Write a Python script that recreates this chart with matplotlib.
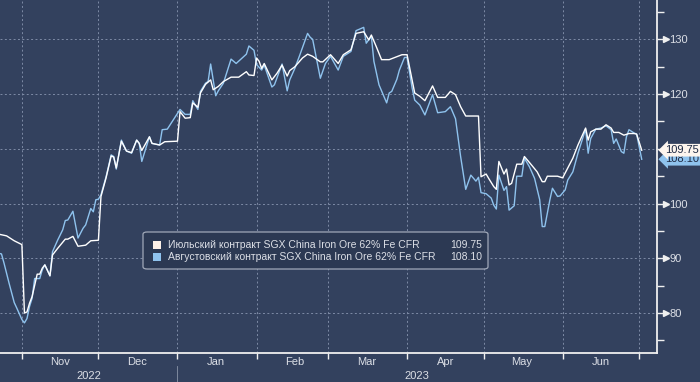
import matplotlib
matplotlib.use("Agg")
import matplotlib.pyplot as plt
import matplotlib.dates as mdates
import matplotlib.transforms as mtransforms
from matplotlib.patches import FancyBboxPatch, Rectangle
import pandas as pd

plt.rcParams["font.family"] = ["Liberation Sans", "DejaVu Sans"]

# July contract (white line)
jul_dates = ["2022-10-23", "2022-10-26", "2022-10-29", "2022-11-01", "2022-11-02",
             "2022-11-03", "2022-11-04", "2022-11-05", "2022-11-07", "2022-11-08",
             "2022-11-09", "2022-11-10", "2022-11-12", "2022-11-13", "2022-11-15",
             "2022-11-18", "2022-11-19", "2022-11-21", "2022-11-23", "2022-11-26",
             "2022-11-28", "2022-12-01", "2022-12-02", "2022-12-04", "2022-12-06",
             "2022-12-07", "2022-12-08", "2022-12-10", "2022-12-12", "2022-12-14",
             "2022-12-16", "2022-12-17", "2022-12-18", "2022-12-21", "2022-12-22",
             "2022-12-25", "2022-12-27", "2023-01-01", "2023-01-02", "2023-01-04",
             "2023-01-06", "2023-01-07", "2023-01-09", "2023-01-10", "2023-01-12",
             "2023-01-14", "2023-01-15", "2023-01-17", "2023-01-19", "2023-01-22",
             "2023-01-25", "2023-01-28", "2023-01-29", "2023-01-31", "2023-02-01",
             "2023-02-02", "2023-02-03", "2023-02-04", "2023-02-07", "2023-02-09",
             "2023-02-11", "2023-02-13", "2023-02-14", "2023-02-16", "2023-02-19",
             "2023-02-21", "2023-02-23", "2023-02-26", "2023-02-27", "2023-03-02",
             "2023-03-05", "2023-03-07", "2023-03-10", "2023-03-12", "2023-03-15",
             "2023-03-17", "2023-03-18", "2023-03-20", "2023-03-22", "2023-03-25",
             "2023-03-30", "2023-04-01", "2023-04-03", "2023-04-04", "2023-04-06",
             "2023-04-08", "2023-04-11", "2023-04-13", "2023-04-16", "2023-04-18",
             "2023-04-20", "2023-04-22", "2023-04-24", "2023-04-29", "2023-04-30",
             "2023-05-02", "2023-05-03", "2023-05-05", "2023-05-06", "2023-05-07",
             "2023-05-09", "2023-05-10", "2023-05-11", "2023-05-12", "2023-05-14",
             "2023-05-16", "2023-05-17", "2023-05-19", "2023-05-22", "2023-05-24",
             "2023-05-25", "2023-05-26", "2023-05-30", "2023-06-01", "2023-06-03",
             "2023-06-05", "2023-06-07", "2023-06-10", "2023-06-11", "2023-06-12",
             "2023-06-14", "2023-06-16", "2023-06-18", "2023-06-20", "2023-06-21",
             "2023-06-23", "2023-06-25", "2023-06-27", "2023-06-29", "2023-06-30",
             "2023-07-02"]
jul_vals = [94.4, 94.1, 93.2, 92.5, 80.0,
            80.2, 81.8, 83.0, 87.1, 87.1,
            88.2, 88.8, 86.8, 90.6, 91.8,
            93.5, 93.5, 94.0, 92.2, 92.4,
            93.2, 93.3, 101.3, 104.7, 108.7,
            108.5, 106.5, 111.4, 109.6, 109.3,
            111.6, 111.0, 109.7, 112.2, 111.0,
            110.7, 111.3, 111.4, 116.8, 115.6,
            115.7, 118.4, 117.6, 120.2, 121.8,
            122.6, 120.8, 121.4, 122.3, 123.1,
            123.1, 124.1, 123.5, 123.4, 126.6,
            126.0, 124.7, 125.6, 122.6, 123.8,
            125.3, 123.3, 124.3, 125.0, 126.6,
            127.3, 126.9, 125.9, 125.9, 127.2,
            125.6, 127.2, 128.1, 131.1, 131.4,
            129.9, 130.8, 128.6, 126.3, 126.3,
            127.2, 127.2, 122.6, 120.2, 119.6,
            118.8, 121.5, 119.4, 119.4, 120.5,
            119.9, 117.7, 116.0, 116.0, 104.9,
            105.4, 104.6, 103.1, 102.6, 107.7,
            105.4, 106.3, 103.4, 103.7, 107.2,
            107.2, 108.6, 107.5, 105.8, 104.0,
            104.0, 105.0, 105.0, 104.7, 106.5,
            108.3, 110.7, 113.8, 111.6, 113.1,
            113.6, 113.6, 114.4, 113.8, 113.0,
            113.0, 112.5, 112.8, 112.8, 112.7,
            109.75]

# August contract (light blue line)
aug_dates = ["2022-10-23", "2022-10-24", "2022-10-25", "2022-10-27", "2022-10-29",
             "2022-10-30", "2022-11-01", "2022-11-02", "2022-11-03", "2022-11-04",
             "2022-11-05", "2022-11-06", "2022-11-08", "2022-11-09", "2022-11-10",
             "2022-11-12", "2022-11-13", "2022-11-15", "2022-11-17", "2022-11-18",
             "2022-11-19", "2022-11-21", "2022-11-22", "2022-11-23", "2022-11-25",
             "2022-11-26", "2022-11-28", "2022-11-29", "2022-11-30", "2022-12-01",
             "2022-12-02", "2022-12-04", "2022-12-06", "2022-12-07", "2022-12-08",
             "2022-12-10", "2022-12-12", "2022-12-14", "2022-12-16", "2022-12-17",
             "2022-12-18", "2022-12-21", "2022-12-22", "2022-12-25", "2022-12-26",
             "2022-12-28", "2023-01-02", "2023-01-04", "2023-01-06", "2023-01-07",
             "2023-01-09", "2023-01-10", "2023-01-12", "2023-01-13", "2023-01-14",
             "2023-01-16", "2023-01-17", "2023-01-19", "2023-01-22", "2023-01-24",
             "2023-01-28", "2023-01-29", "2023-01-31", "2023-02-01", "2023-02-03",
             "2023-02-04", "2023-02-07", "2023-02-08", "2023-02-11", "2023-02-13",
             "2023-02-14", "2023-02-16", "2023-02-18", "2023-02-21", "2023-02-22",
             "2023-02-23", "2023-02-26", "2023-02-28", "2023-03-02", "2023-03-05",
             "2023-03-07", "2023-03-10", "2023-03-12", "2023-03-15", "2023-03-16",
             "2023-03-18", "2023-03-19", "2023-03-21", "2023-03-24", "2023-03-25",
             "2023-03-26", "2023-03-28", "2023-03-29", "2023-03-31", "2023-04-01",
             "2023-04-03", "2023-04-04", "2023-04-06", "2023-04-08", "2023-04-11",
             "2023-04-13", "2023-04-16", "2023-04-18", "2023-04-20", "2023-04-22",
             "2023-04-24", "2023-04-26", "2023-04-28", "2023-04-29", "2023-04-30",
             "2023-05-02", "2023-05-04", "2023-05-05", "2023-05-06", "2023-05-07",
             "2023-05-09", "2023-05-10", "2023-05-11", "2023-05-13", "2023-05-14",
             "2023-05-16", "2023-05-17", "2023-05-19", "2023-05-21", "2023-05-23",
             "2023-05-24", "2023-05-25", "2023-05-27", "2023-05-28", "2023-05-30",
             "2023-05-31", "2023-06-02", "2023-06-03", "2023-06-05", "2023-06-07",
             "2023-06-10", "2023-06-11", "2023-06-12", "2023-06-14", "2023-06-16",
             "2023-06-18", "2023-06-20", "2023-06-21", "2023-06-22", "2023-06-24",
             "2023-06-25", "2023-06-26", "2023-06-27", "2023-06-29", "2023-06-30",
             "2023-07-02"]
aug_vals = [90.9, 90.8, 89.1, 85.4, 81.9,
            80.9, 78.8, 78.2, 79.0, 81.2,
            82.7, 86.3, 86.3, 87.9, 88.8,
            86.8, 91.2, 93.3, 95.2, 96.9,
            97.0, 98.6, 96.1, 93.7, 95.5,
            96.1, 99.1, 98.5, 100.7, 100.8,
            101.6, 104.9, 108.9, 108.6, 106.3,
            111.6, 109.6, 109.2, 111.6, 111.0,
            107.7, 112.2, 111.0, 110.7, 113.5,
            113.6, 117.2, 116.3, 116.3, 118.8,
            117.2, 120.5, 122.0, 122.3, 125.5,
            119.7, 120.6, 122.0, 126.4, 125.6,
            127.3, 128.8, 128.0, 125.4, 124.4,
            125.3, 121.3, 121.7, 125.5, 120.6,
            122.6, 124.7, 127.2, 131.1, 130.4,
            130.0, 122.9, 125.6, 126.9, 124.4,
            126.9, 127.8, 131.6, 132.2, 129.3,
            130.6, 126.0, 121.7, 118.4, 120.2,
            120.5, 122.7, 124.4, 126.7, 126.7,
            121.1, 118.9, 118.0, 116.2, 119.9,
            116.6, 116.8, 117.7, 115.5, 108.6,
            102.6, 105.2, 104.1, 104.8, 102.0,
            101.8, 101.0, 99.7, 99.0, 105.2,
            102.4, 103.1, 98.8, 99.6, 105.0,
            105.0, 108.3, 106.7, 104.6, 100.7,
            95.8, 95.8, 100.7, 102.8, 101.3,
            101.4, 102.5, 104.3, 105.8, 109.2,
            113.6, 109.2, 111.9, 113.6, 113.8,
            114.2, 113.5, 111.0, 111.8, 109.5,
            109.2, 112.2, 113.5, 112.9, 112.7,
            108.10]

month_starts = ["2022-11-01", "2022-12-01", "2023-01-01", "2023-02-01", "2023-03-01",
                "2023-04-01", "2023-05-01", "2023-06-01", "2023-07-01"]
month_labels = ["Nov", "Dec", "Jan", "Feb", "Mar", "Apr", "May", "Jun"]
yticks = [80, 90, 100, 110, 120, 130]
ytick_labels = ["80", "90", "100", "", "120", "130"]

jul_name = "Июльский контракт SGX China Iron Ore 62% Fe CFR"
aug_name = "Августовский контракт SGX China Iron Ore 62% Fe CFR"
jul_last = "109.75"
aug_last = "108.10"

bg = "#33415e"
white_c = "#ffffff"
blue_c = "#8fc3ee"
grid_c = "#7e8ba6"
txt_c = "#dcdfe6"

jul_x = pd.to_datetime(jul_dates)
aug_x = pd.to_datetime(aug_dates)
ms = pd.to_datetime(month_starts)
mids = ms[:-1] + pd.Timedelta(days=15)

fig = plt.figure(figsize=(7, 3.82), dpi=100, facecolor=bg)
ax = fig.add_axes([0.0, 0.076, 0.938, 0.924])
ax.set_facecolor(bg)

ax.plot(aug_x, aug_vals, color=blue_c, lw=1.0, zorder=3)
ax.plot(jul_x, jul_vals, color=white_c, lw=1.0, zorder=4)

ax.set_xlim(pd.Timestamp("2022-10-23 10:00"), pd.Timestamp("2023-07-07 20:00"))
ax.set_ylim(72.7, 137.2)

# grid
for d in ms:
    ax.axvline(d, color=grid_c, lw=0.7, ls=(0, (2, 2.5)), zorder=1)
for v in yticks:
    ax.axhline(v, color=grid_c, lw=0.7, ls=(0, (2, 2.5)), zorder=1)

for s in ["left", "top"]:
    ax.spines[s].set_visible(False)
for s in ["right", "bottom"]:
    ax.spines[s].set_color("#f0f0f0")
    ax.spines[s].set_linewidth(1.3)

# y axis on the right
ax.yaxis.tick_right()
ax.set_yticks(yticks)
ax.set_yticklabels(ytick_labels)
ax.set_yticks([75, 85, 95, 105, 115, 125, 135], minor=True)
ax.tick_params(axis="y", which="major", length=7, width=1, color="#f0f0f0",
               labelsize=8, labelcolor=txt_c, pad=2)
ax.tick_params(axis="y", which="minor", length=5, width=1, color="#f0f0f0")
tr_y = ax.get_yaxis_transform()
ax.plot([1.014] * len(yticks), yticks, ls="none", marker=">", ms=4,
        color="#f0f0f0", transform=tr_y, clip_on=False)

# x axis
ax.set_xticks(ms)
ax.set_xticklabels([""] * len(ms))
ax.set_xticks(mids, minor=True)
ax.set_xticklabels(month_labels, minor=True)
ax.tick_params(axis="x", which="major", length=4, width=1, color="#f0f0f0")
ax.tick_params(axis="x", which="minor", length=0, labelsize=8,
               labelcolor=txt_c, pad=3)

tr_x = mtransforms.blended_transform_factory(ax.transData, ax.transAxes)
x0, x1 = ax.get_xlim()
jan1 = mdates.date2num(pd.Timestamp("2023-01-01"))
ax.text((x0 + jan1) / 2, -0.065, "2022", transform=tr_x, ha="center", va="center",
        fontsize=8, color=txt_c)
ax.text((jan1 + x1) / 2, -0.065, "2023", transform=tr_x, ha="center", va="center",
        fontsize=8, color=txt_c)
ax.plot([jan1, jan1], [-0.037, -0.09], transform=tr_x, color="#8a94a8", lw=0.6,
        clip_on=False)

# last value tags
ax.text(1.013, 108.1, aug_last, transform=tr_y, ha="left", va="center",
        fontsize=8, color="#1e2a44", zorder=5,
        bbox=dict(boxstyle="larrow,pad=0.12", fc=blue_c, ec="none"))
ax.text(1.013, 109.75, jul_last, transform=tr_y, ha="left", va="center",
        fontsize=8, color="#1e2a44", zorder=6,
        bbox=dict(boxstyle="larrow,pad=0.12", fc="#fdf5ee", ec="none"))

# legend box
W, H = 700.0, 382.0
box = FancyBboxPatch((143 / W, 1 - 269 / H), 345 / W, 37 / H,
                     boxstyle="round,pad=0,rounding_size=0.006",
                     transform=fig.transFigure, fc="#2c3953", ec="#a0a8b8",
                     lw=0.9, zorder=10)
fig.patches.append(box)
for row_y, col, name, val in [(245, "#fdf1e8", jul_name, jul_last),
                              (257, blue_c, aug_name, aug_last)]:
    fig.patches.append(Rectangle((153 / W, 1 - (row_y + 4) / H), 8 / W, 8 / H,
                                 transform=fig.transFigure, fc=col, ec="none",
                                 zorder=11))
    fig.text(168 / W, 1 - row_y / H, name, ha="left", va="center", fontsize=7.5,
             color=txt_c, zorder=11)
    fig.text(482 / W, 1 - row_y / H, val, ha="right", va="center", fontsize=7.5,
             color=txt_c, zorder=11)

fig.savefig("out.png", dpi=100, facecolor=bg)
